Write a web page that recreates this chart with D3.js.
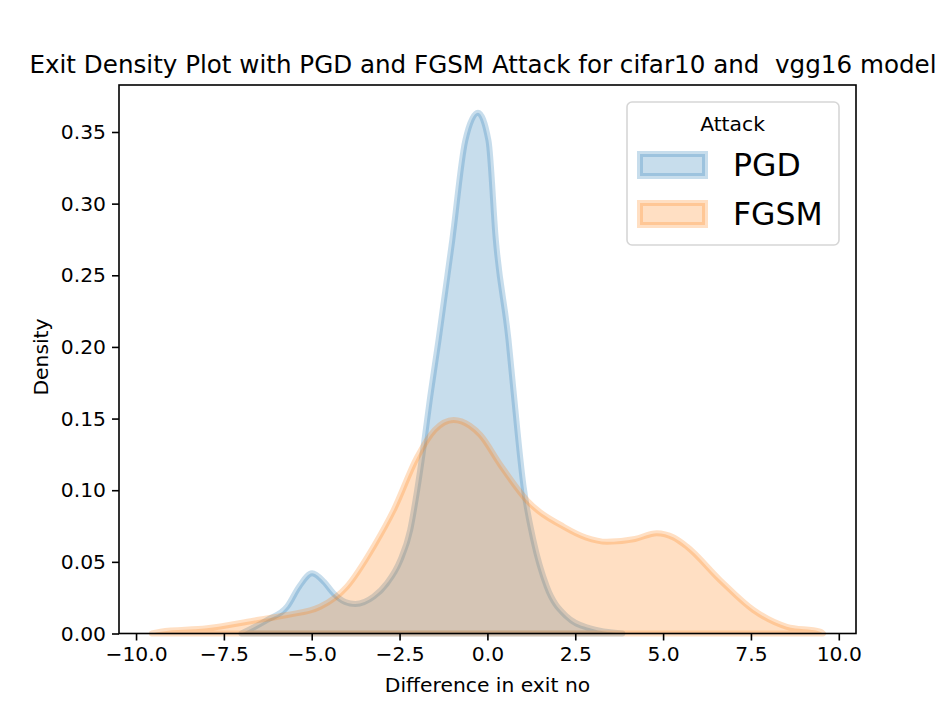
<!DOCTYPE html>
<html lang="en">

<head>
    <meta charset="UTF-8">
    <title>Exit Density Plot</title>
    <script src="https://d3js.org/d3.v7.min.js"></script>
    <style>
        body { margin: 0; background: #fff; }
        svg { display: block; font-family: "DejaVu Sans", sans-serif; }
    </style>
</head>

<body>
    <svg width="951" height="713"></svg>
    <script>
        // values
        const attacks = ["PGD", "FGSM"];
        const colors = ["#1f77b4", "#ff7f0e"];

        const pgdX = [-7.0, -6.75, -6.27, -5.7, -5.35, -4.99, -4.65, -4.38, -4.05, -3.76, -3.24, -2.86, -2.48, -2.2, -2.0, -1.82, -1.63, -1.39, -1.0, -0.63, -0.27, 0.03, 0.24, 0.6, 0.74, 1.03, 1.31, 1.69, 2.26, 2.92, 3.84];
        const pgdDensity = [0.0, 0.003, 0.0094, 0.0187, 0.033, 0.042, 0.036, 0.028, 0.022, 0.0206, 0.0257, 0.035, 0.051, 0.072, 0.1, 0.13, 0.165, 0.205, 0.2746, 0.344, 0.3635, 0.344, 0.2746, 0.205, 0.17, 0.1025, 0.065, 0.0327, 0.0117, 0.0036, 0.0];

        const fgsmX = [-9.55, -9.3, -7.98, -6.66, -5.7, -4.76, -4.0, -3.24, -2.67, -2.0, -1.5, -0.96, -0.5, -0.2, 0.36, 1.12, 2.17, 2.8, 3.4, 4.2, 4.82, 5.3, 5.68, 6.62, 7.57, 8.52, 9.47, 9.55];
        const fgsmDensity = [0.0, 0.0013, 0.0036, 0.0089, 0.0129, 0.0187, 0.0327, 0.0606, 0.086, 0.123, 0.142, 0.149, 0.145, 0.1385, 0.118, 0.093, 0.0745, 0.067, 0.064, 0.066, 0.07, 0.067, 0.0606, 0.0373, 0.0164, 0.0047, 0.0013, 0.0];

        const xTicks = [-10, -7.5, -5, -2.5, 0, 2.5, 5, 7.5, 10];
        const yTicks = [0, 0.05, 0.1, 0.15, 0.2, 0.25, 0.3, 0.35];

        const titleText = "Exit Density Plot with PGD and FGSM Attack for cifar10 and  vgg16 model";

        const margin = { top: 85, right: 95, bottom: 79.5, left: 119 },
            width = 951 - margin.left - margin.right,
            height = 713 - margin.top - margin.bottom;

        const svg = d3.select("svg");
        const g = svg.append("g")
            .attr("transform", `translate(${margin.left},${margin.top})`);

        const x = d3.scaleLinear().domain([-10.485, 10.49]).range([0, width]);
        const y = d3.scaleLinear().domain([0, 0.3828]).range([height, 0]);

        const series = [
            { name: attacks[0], color: colors[0], pts: pgdX.map((v, i) => [v, pgdDensity[i]]) },
            { name: attacks[1], color: colors[1], pts: fgsmX.map((v, i) => [v, fgsmDensity[i]]) }
        ];

        const area = d3.area()
            .curve(d3.curveMonotoneX)
            .x(d => x(d[0]))
            .y0(y(0))
            .y1(d => y(d[1]));

        g.selectAll(".kde")
            .data(series)
            .enter().append("path")
            .attr("class", "kde")
            .attr("d", d => area(d.pts))
            .attr("fill", d => d.color)
            .attr("fill-opacity", 0.25)
            .attr("stroke", d => d.color)
            .attr("stroke-opacity", 0.25)
            .attr("stroke-width", 6)
            .attr("stroke-linejoin", "round");

        // axes
        const xAxis = g.append("g")
            .attr("transform", `translate(0,${height})`)
            .call(d3.axisBottom(x).tickValues(xTicks).tickFormat(d3.format(".1f")).tickSize(7).tickPadding(6));
        const yAxis = g.append("g")
            .call(d3.axisLeft(y).tickValues(yTicks).tickFormat(d3.format(".2f")).tickSize(7).tickPadding(6));

        [xAxis, yAxis].forEach(a => {
            a.select(".domain").remove();
            a.selectAll("line").attr("stroke", "#000").attr("stroke-width", 1.6);
            a.selectAll("text")
                .attr("fill", "#000")
                .style("font-family", "DejaVu Sans")
                .style("font-size", "20.3px")
                .text(function () { return d3.select(this).text().replace("-", "\u2212"); });
        });

        // frame
        g.append("rect")
            .attr("width", width)
            .attr("height", height)
            .attr("fill", "none")
            .attr("stroke", "#000")
            .attr("stroke-width", 1.6);

        svg.append("text")
            .attr("x", 483)
            .attr("y", 72.7)
            .attr("text-anchor", "middle")
            .style("font-size", "24.6px")
            .style("white-space", "pre")
            .text(titleText);

        svg.append("text")
            .attr("x", margin.left + width / 2)
            .attr("y", 692)
            .attr("text-anchor", "middle")
            .style("font-size", "20.3px")
            .text("Difference in exit no");

        svg.append("text")
            .attr("transform", "translate(47.5,357) rotate(-90)")
            .attr("text-anchor", "middle")
            .style("font-size", "20.3px")
            .text("Density");

        // legend
        const legend = svg.append("g").attr("transform", "translate(627,102)");
        legend.append("rect")
            .attr("width", 212)
            .attr("height", 143)
            .attr("rx", 5)
            .attr("fill", "#fff")
            .attr("fill-opacity", 0.8)
            .attr("stroke", "#d6d6d6")
            .attr("stroke-width", 1.6);
        legend.append("text")
            .attr("x", 105.5)
            .attr("y", 28.7)
            .attr("text-anchor", "middle")
            .style("font-size", "20.3px")
            .text("Attack");

        const items = legend.selectAll(".item")
            .data(series)
            .enter().append("g")
            .attr("class", "item")
            .attr("transform", (d, i) => `translate(0,${52 + i * 49})`);
        items.append("rect")
            .attr("x", 13)
            .attr("width", 65)
            .attr("height", 22)
            .attr("fill", d => d.color)
            .attr("fill-opacity", 0.25)
            .attr("stroke", d => d.color)
            .attr("stroke-opacity", 0.25)
            .attr("stroke-width", 6);
        items.append("text")
            .attr("x", 106)
            .attr("y", 22)
            .style("font-size", "31.5px")
            .text(d => d.name);
    </script>
</body>

</html>
